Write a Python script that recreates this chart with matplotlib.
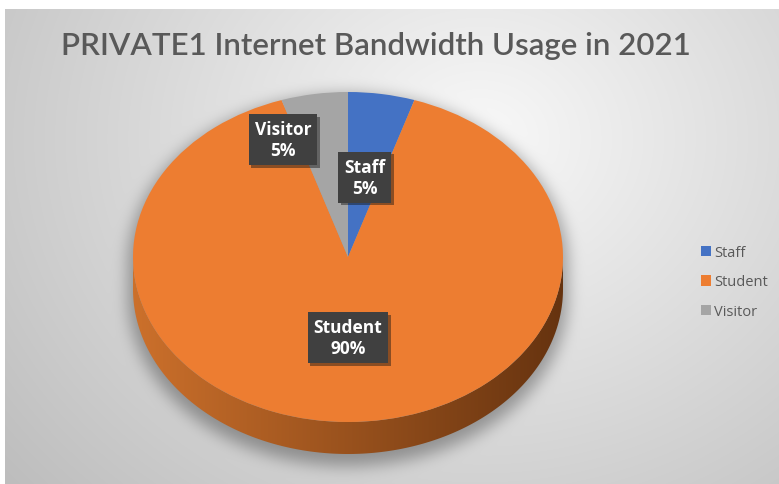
import numpy as np
import matplotlib.pyplot as plt
from matplotlib.patches import Polygon
from matplotlib import patheffects as pe

# data
categories = ['Staff', 'Student', 'Visitor']
shares = [5, 90, 5]
colors = ['#4472C4', '#ED7D31', '#A5A5A5']

W, H = 779, 485
cx, cy = 348, 258      # pie centre in pixels
rx, ry = 215, 165      # top face radii in pixels
depth = 32             # thickness of the pie in pixels

fig = plt.figure(figsize=(W / 100, H / 100), dpi=100, facecolor='white')

# background: radial grey gradient with the pie's drop shadow baked in
bg = fig.add_axes([0, 0, 1, 1])
bg.set_xlim(0, W)
bg.set_ylim(H, 0)
bg.axis('off')

yy, xx = np.mgrid[10:H, 5:W] + 0.5
dist = np.hypot((xx - 480) / 1.0, (yy - 140) / 0.85) / 560
shade = np.clip(0.975 - 0.21 * dist, 0.74, 0.975)


def box_blur(a, r):
    for axis in (0, 1):
        a = np.swapaxes(a, 0, axis)
        c = np.cumsum(np.pad(a, ((r + 1, r), (0, 0)), mode='edge'), axis=0)
        a = (c[2 * r + 1:] - c[:-2 * r - 1]) / (2 * r + 1)
        a = np.swapaxes(a, 0, axis)
    return a


mask = np.zeros_like(xx)
for off in np.linspace(0, depth, 12):
    m = ((xx - cx) / (rx + 5)) ** 2 + ((yy - cy - off - 7) / (ry + 5)) ** 2 <= 1
    mask = np.maximum(mask, m)
for _ in range(3):
    mask = box_blur(mask, 7)
shade = shade * (1 - 0.32 * mask)
bg.imshow(np.dstack([shade] * 3), extent=(5, W, H, 10), aspect='auto',
          interpolation='bilinear')

# pie axes: unit circle squashed into an ellipse
ax = fig.add_axes([0, 0, 1, 1])
ax.patch.set_alpha(0)
wedges, _ = ax.pie(shares, colors=colors, startangle=90, counterclock=False,
                   radius=1, center=(0, 0), wedgeprops=dict(linewidth=0))
for w in wedges:
    w.set_zorder(3)
ax.set_aspect('auto')
ax.set_xlim(-cx / rx, (W - cx) / rx)
ax.set_ylim((cy - H) / ry, cy / ry)
ax.axis('off')

# side wall of the 3D pie (front half)
d = depth / ry
t = np.linspace(np.pi, 2 * np.pi, 200)
side = np.vstack([np.column_stack([np.cos(t), np.sin(t)]),
                  np.column_stack([np.cos(t[::-1]), np.sin(t[::-1]) - d])])
side_patch = Polygon(side, closed=True, facecolor='none', edgecolor='none')
ax.add_patch(side_patch)
g = np.linspace(0, 1, 256)
c0 = np.array([0.80, 0.44, 0.17])
c1 = np.array([0.40, 0.20, 0.06])
grad = (c0[None, :] * (1 - g[:, None]) + c1[None, :] * g[:, None])[None, :, :]
im = ax.imshow(grad, extent=(-1, 1, -1 - d, 0), aspect='auto', zorder=2,
               interpolation='bilinear')
im.set_clip_path(side_patch)

# data labels in dark boxes
label_pos = {'Staff': (0.49, 0), 'Student': (0.49, 0), 'Visitor': (0.775, 14)}
for w, name, val in zip(wedges, categories, shares):
    r, shift = label_pos[name]
    mid = np.deg2rad((w.theta1 + w.theta2) / 2 + shift)
    txt = ax.text(r * np.cos(mid), r * np.sin(mid), f'{name}\n{val}%',
                  ha='center', va='center', color='white', fontsize=12.5,
                  fontweight='bold', family='Open Sans', linespacing=1.2,
                  zorder=5,
                  bbox=dict(boxstyle='square,pad=0.35', facecolor='#404040',
                            edgecolor='none'))
    txt.get_bbox_patch().set_path_effects(
        [pe.SimplePatchShadow(offset=(2, -2), alpha=0.45), pe.Normal()])

fig.text(376 / W, 1 - 46 / H, 'PRIVATE1 Internet Bandwidth Usage in 2021',
         ha='center', va='center', fontsize=22.5, fontweight='semibold',
         color='#595959', family='Lato')

fig.legend(wedges, categories, loc='center left',
           bbox_to_anchor=(688 / W, 1 - 283 / H), frameon=False,
           prop=dict(family='Open Sans', size=10.5), labelcolor='#595959',
           handlelength=0.7, handleheight=0.7, handletextpad=0.2,
           labelspacing=1.0)

fig.savefig('out.png', dpi=100)
